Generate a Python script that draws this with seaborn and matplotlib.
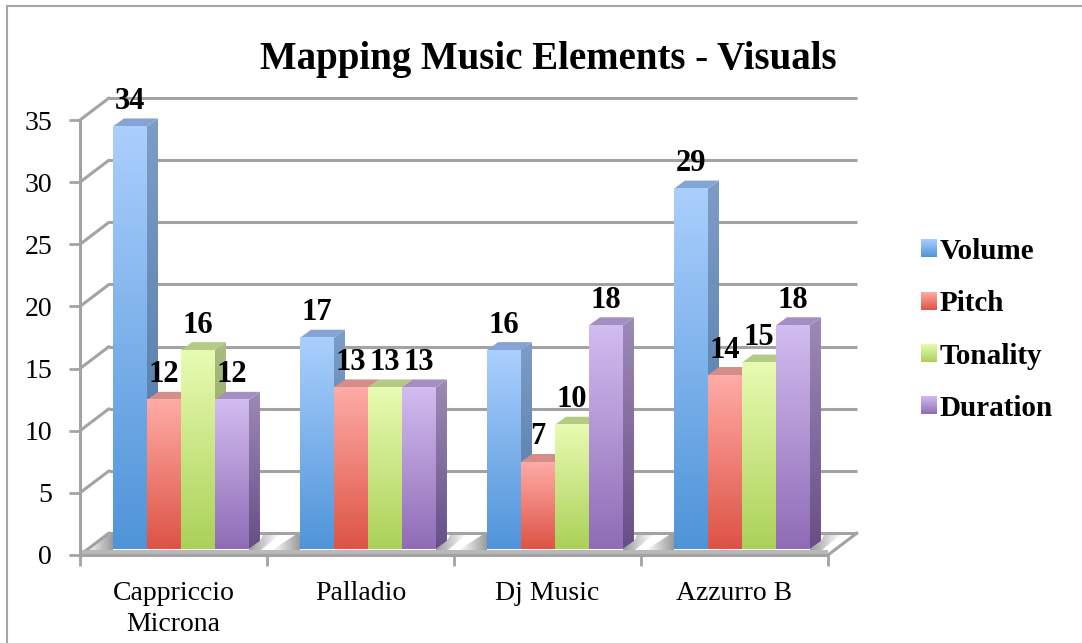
import numpy as np
import pandas as pd
import matplotlib
matplotlib.use('Agg')
import matplotlib.pyplot as plt
import seaborn as sns
from matplotlib.colors import LinearSegmentedColormap
from matplotlib.image import BboxImage
from matplotlib.legend_handler import HandlerBase
from matplotlib.lines import Line2D
from matplotlib.patches import Polygon, Rectangle, Patch
from matplotlib.transforms import Affine2D, Bbox, TransformedBbox

# data
aplicacoes = ['Cappriccio\nMicrona', 'Palladio', 'Dj Music', 'Azzurro B']
volume = [34, 17, 16, 29]
pitch = [12, 13, 7, 14]
tonality = [16, 13, 10, 15]
duration = [12, 13, 18, 18]
elementos = ['Volume', 'Pitch', 'Tonality', 'Duration']
y_ticks = [0, 5, 10, 15, 20, 25, 30, 35]

# colours: top of gradient, bottom of gradient
cores_frente = [('#AACFFD', '#4F94D9'), ('#FFABA6', '#DD5345'),
                ('#E8FBB2', '#ABD158'), ('#D2BCF0', '#8F6CB6')]
cores_lado = [('#7D9DC6', '#4A74A5'), ('#C08A88', '#A43F35'),
              ('#ABBC85', '#7E9B40'), ('#9C8BB4', '#684E88')]
cores_topo = ['#84A5D3', '#D48E8A', '#B3CB82', '#A48FC1']

GRIS = '#A3A3A3'
FONTE = 'Liberation Serif'
L, H = 1082, 643

long = pd.DataFrame({'aplicacao': aplicacoes * 4,
                     'elemento': np.repeat(elementos, 4),
                     'contagem': volume + pitch + tonality + duration})

sns.set_theme(style='white')
plt.rcParams['font.family'] = [FONTE, 'DejaVu Serif']

fig = plt.figure(figsize=(L / 100, H / 100), dpi=100)
ax = fig.add_axes([80 / L, (H - 555) / H, 748 / L, 435 / H])
ax.patch.set_alpha(0)

paleta = [c[1] for c in cores_frente]
sns.barplot(data=long, x='aplicacao', y='contagem', hue='elemento', palette=paleta,
            width=0.727, gap=0, saturation=1, ax=ax, legend=False, zorder=3)

# pixel offsets: the bars sit a little behind the front axis, the grid on the back wall
desloc_barra = ax.transData + Affine2D().translate(7.5, 6)
desloc_fundo = ax.transData + Affine2D().translate(29, 22)
px_x = 4 / 748
px_y = 35 / 435
prof_x = 11 * px_x
prof_y = 8 * px_y


def gradiente(c1, c2, horizontal=False):
    cmap = LinearSegmentedColormap.from_list('g', [c1, c2])
    g = np.linspace(0, 1, 128)
    return cmap(g[None, :] if horizontal else g[:, None])


def preenche(rgba, extent, zorder, poly=None):
    im = ax.imshow(rgba, extent=extent, aspect='auto', origin='upper',
                   transform=desloc_barra, zorder=zorder, interpolation='bilinear')
    im.set_clip_box(fig.bbox)
    if poly is not None:
        im.set_clip_path(Polygon(poly, closed=True, transform=desloc_barra))
    return im


# back wall grid
ax.hlines(y_ticks, -0.5, 3.5, colors=GRIS, lw=2.2, transform=desloc_fundo, zorder=1, clip_on=False)
# lines from front axis to back wall
for v in y_ticks:
    ax.plot([-0.5, -0.5 + 29 * px_x], [v, v + 22 * px_y], color=GRIS, lw=2.2, zorder=1,
            clip_on=False, solid_capstyle='round')
ax.plot([3.5, 3.5 + 29 * px_x], [0, 22 * px_y], color=GRIS, lw=2.2, zorder=1, clip_on=False)

# floor: grey band along the front edge and a soft shadow around each group
ax.add_patch(Rectangle((-0.5, -2 * px_y), 4, 7 * px_y, color='#B8B8B8', lw=0, zorder=2, clip_on=False))
for i in range(4):
    xe = i - 68 * px_x
    xd = i + 68 * px_x
    p_esq = [(xe - 28 * px_x, -1 * px_y), (xe - 5 * px_x, 14 * px_y), (xe, 14 * px_y), (xe, -1 * px_y)]
    preenche(gradiente('#9A9A9A00', '#9A9A9AFF', True),
             (xe - 28 * px_x, xe, -1 * px_y, 14 * px_y), 2, p_esq)
    p_dir = [(xd, 0), (xd + 11 * px_x, 8 * px_y), (xd + 14 * px_x, 14 * px_y),
             (xd + 30 * px_x, 14 * px_y), (xd + 12 * px_x, -1 * px_y), (xd, -1 * px_y)]
    preenche(gradiente('#9A9A9AFF', '#9A9A9A00', True),
             (xd, xd + 30 * px_x, -1 * px_y, 14 * px_y), 2, p_dir)

# bars in left to right order so the later faces cover the earlier sides
barras = []
for s, cont in enumerate(ax.containers):
    for b in cont:
        barras.append((b.get_x(), s, b))
barras.sort(key=lambda t: t[0])

z = 4
for x0, s, b in barras:
    w, h = b.get_width(), b.get_height()
    b.set_visible(False)
    x1 = x0 + w
    lado = [(x1, 0), (x1 + prof_x, prof_y), (x1 + prof_x, h + prof_y), (x1, h)]
    preenche(gradiente(*cores_lado[s]), (x1, x1 + prof_x, 0, h + prof_y), z, lado)
    topo = Polygon([(x0, h), (x0 + prof_x, h + prof_y), (x1 + prof_x, h + prof_y), (x1, h)],
                   closed=True, color=cores_topo[s], lw=0, zorder=z,
                   transform=desloc_barra, clip_on=False)
    ax.add_patch(topo)
    preenche(gradiente(*cores_frente[s]), (x0, x1, 0, h), z)
    z += 1
    ax.annotate(f'{h:.0f}', (x0 + w / 2, h), xytext=(7.5 * 0.72, 31 * 0.72),
                textcoords='offset points', ha='center', va='center',
                fontsize=22, fontweight='bold', color='black', zorder=40, annotation_clip=False)

ax.set_xlim(-0.5, 3.5)
ax.set_ylim(0, 35)

# axes
for lado_ in ['top', 'right']:
    ax.spines[lado_].set_visible(False)
for lado_ in ['left', 'bottom']:
    ax.spines[lado_].set_color(GRIS)
    ax.spines[lado_].set_linewidth(2.2)
    ax.spines[lado_].set_zorder(30)
ax.set_yticks(y_ticks)
ax.set_xticks([-0.5, 0.5, 1.5, 2.5, 3.5])
ax.set_xticklabels([])
ax.set_xticks(range(4), aplicacoes, minor=True)
ax.tick_params(axis='x', which='major', length=8, width=2, color=GRIS, bottom=True)
ax.tick_params(axis='x', which='minor', length=0, pad=18.5, labelsize=20, labelcolor='black', bottom=True)
ax.tick_params(axis='y', length=8, width=2, color=GRIS, pad=12, labelsize=20, labelcolor='black', left=True)
for t in ax.get_xticklabels(minor=True):
    t.set_linespacing(1.33)
ax.set_xlabel('')
ax.set_ylabel('')

fig.text(548 / L, 1 - 60 / H, 'Mapping Music Elements - Visuals', ha='center', va='center',
         fontsize=28, fontweight='bold', color='black')


class HandlerGradiente(HandlerBase):
    def create_artists(self, legend, orig, xd, yd, w, h, fontsize, trans):
        s = orig.indice
        bb = TransformedBbox(Bbox([[-xd, -yd], [-xd + w, -yd + h]]), trans)
        im = BboxImage(bb, interpolation='bilinear')
        im.set_data(gradiente(*cores_frente[s]))
        return [im]


alcas = []
for s, nome in enumerate(elementos):
    p = Patch(label=nome)
    p.indice = s
    alcas.append(p)
ax.legend(handles=alcas, handler_map={Patch: HandlerGradiente()}, frameon=False,
          loc='upper left', bbox_to_anchor=(921 / L, 1 - 238 / H),
          bbox_transform=fig.transFigure, borderpad=0, borderaxespad=0,
          handlelength=0.52, handleheight=0.52, handletextpad=0.12, labelspacing=0.87,
          labelcolor='black', prop={'family': FONTE, 'weight': 'bold', 'size': 21})

# outer frame of the picture: only the left and top edges are inside the crop
cor_borda = '#A6A6A6'
fig.add_artist(Line2D([7 / L, 7 / L], [0, 1 - 6 / H], color=cor_borda, lw=1.5))
fig.add_artist(Line2D([7 / L, 1], [1 - 6 / H, 1 - 6 / H], color=cor_borda, lw=1.5))

fig.savefig('out.png', dpi=100)
